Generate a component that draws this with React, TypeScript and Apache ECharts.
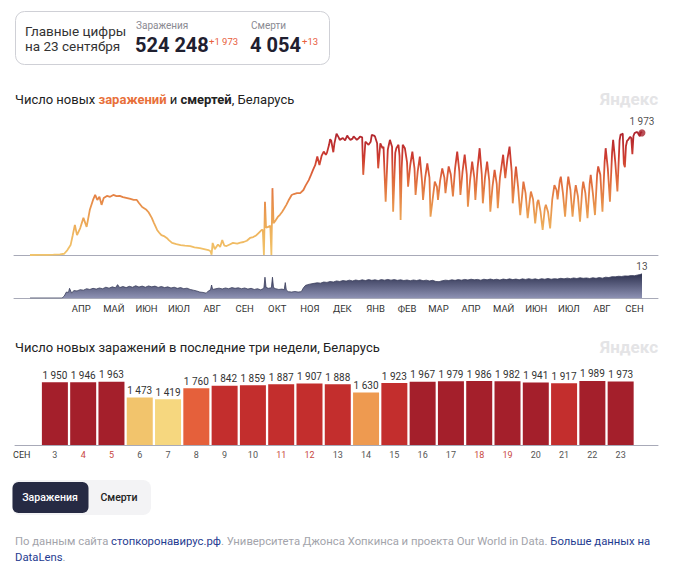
import { useEffect, useRef } from 'react';
import * as echarts from 'echarts';

const FONT = 'Roboto, "Noto Sans", sans-serif';

// Day numbers are days since 2020-03-01
const caseDays = [-2, 6, 14, 20, 26, 30, 33, 36, 38, 40, 42, 45, 48, 51, 54, 57, 59, 61, 63, 65, 67, 70, 73, 76, 79, 82, 85, 89, 92, 95, 98, 100, 103, 107, 109, 112, 114, 117, 119, 121, 124, 126, 128, 131, 135, 139, 143, 148, 152, 157, 161, 165, 167, 168, 169, 171, 174, 176, 178, 180, 182, 185, 188, 192, 195, 198, 201, 204, 207, 210, 212, 215, 216, 217, 218, 219, 221, 223, 224, 225, 226, 228, 230, 232, 234, 236, 238, 240, 243, 245, 248, 251, 254, 256, 259, 261, 263, 265, 267, 269, 271, 273, 275, 276, 278, 279, 280, 282, 283, 285, 287, 288, 290, 291, 293, 295, 296, 298, 300, 301, 303, 304, 306, 307, 309, 310, 312, 315, 317, 318, 320, 321, 323, 324, 326, 328, 329, 331, 333, 334, 335, 337, 338, 340, 341, 343, 344, 345, 346, 347, 349, 351, 352, 354, 356, 358, 359, 361, 363, 365, 366, 368, 370, 372, 373, 375, 377, 379, 380, 382, 384, 386, 387, 389, 390, 392, 394, 396, 398, 400, 401, 403, 405, 407, 408, 410, 412, 414, 415, 417, 419, 421, 422, 424, 426, 428, 429, 431, 433, 435, 436, 438, 441, 443, 444, 445, 447, 449, 450, 452, 453, 455, 457, 459, 460, 462, 464, 466, 467, 469, 471, 473, 474, 476, 478, 480, 481, 483, 485, 487, 489, 491, 492, 494, 495, 497, 499, 501, 502, 504, 506, 508, 509, 511, 513, 515, 516, 518, 520, 522, 523, 525, 527, 529, 530, 532, 534, 536, 537, 539, 541, 543, 544, 546, 548, 550];
const caseValues = [0, 1, 2, 5, 10, 20, 80, 160, 320, 485, 320, 435, 600, 455, 730, 890, 970, 890, 940, 810, 920, 955, 940, 970, 950, 955, 935, 920, 905, 890, 890, 840, 775, 730, 690, 600, 520, 405, 360, 320, 300, 275, 240, 195, 175, 160, 150, 145, 125, 110, 95, 80, 60, 5, 195, 95, 170, 130, 240, 150, 145, 170, 195, 185, 200, 210, 230, 275, 290, 320, 355, 405, 400, 0, 860, 440, 455, 470, 0, 1080, 515, 560, 615, 650, 695, 750, 810, 880, 970, 985, 1000, 1000, 1050, 1120, 1210, 1290, 1375, 1450, 1590, 1455, 1600, 1670, 1620, 1650, 1780, 1870, 1850, 1660, 1800, 1960, 1900, 1860, 1880, 1890, 1850, 1930, 1900, 1860, 1880, 1915, 1880, 1860, 1890, 1915, 1900, 1295, 1830, 1780, 1830, 1940, 1930, 1915, 1805, 1400, 1805, 1725, 1750, 860, 1700, 1780, 1860, 1750, 700, 1650, 1725, 1780, 1600, 565, 1400, 1780, 1725, 1500, 1105, 1450, 1670, 1400, 970, 1350, 1590, 1200, 890, 1250, 1480, 1250, 620, 900, 1185, 1100, 890, 1200, 1400, 1250, 1000, 1300, 1430, 1300, 945, 1400, 1670, 1350, 970, 1350, 1620, 1300, 780, 1200, 1510, 1250, 890, 1400, 1725, 1300, 835, 1250, 1510, 1200, 700, 1100, 1375, 1150, 755, 1250, 1620, 1240, 1400, 1550, 1750, 1350, 835, 1250, 1430, 1100, 645, 1000, 1185, 1000, 595, 900, 1025, 900, 510, 850, 890, 700, 405, 750, 810, 700, 430, 900, 1130, 1050, 900, 1200, 1265, 1000, 620, 1100, 1265, 1050, 620, 1000, 1130, 950, 540, 1050, 1185, 1000, 595, 1150, 1295, 1000, 645, 1300, 1430, 1295, 700, 1500, 1725, 1400, 860, 1650, 1860, 1500, 1025, 1850];

const deathDays = [-2, 28, 30, 32, 34, 35, 37, 39, 42, 45, 48, 51, 54, 57, 60, 63, 66, 69, 72, 75, 78, 80, 82, 85, 88, 91, 94, 97, 100, 103, 106, 109, 112, 115, 118, 121, 124, 127, 130, 133, 136, 139, 142, 145, 148, 151, 154, 157, 160, 163, 165, 167, 168, 169, 172, 175, 178, 181, 184, 187, 190, 193, 196, 199, 202, 205, 208, 211, 214, 216, 217, 218, 219, 221, 223, 224, 225, 226, 228, 231, 234, 236, 237, 238, 240, 243, 246, 249, 252, 254, 256, 258, 261, 264, 267, 270, 273, 276, 279, 282, 285, 288, 291, 294, 297, 300, 303, 306, 309, 312, 315, 318, 321, 324, 327, 330, 333, 336, 339, 342, 345, 348, 351, 354, 357, 360, 363, 366, 369, 372, 375, 378, 381, 384, 387, 390, 393, 396, 399, 402, 405, 408, 411, 414, 417, 420, 423, 426, 429, 432, 435, 438, 441, 444, 447, 450, 453, 456, 459, 462, 465, 468, 471, 474, 477, 480, 483, 486, 489, 492, 495, 498, 501, 504, 507, 510, 513, 516, 519, 522, 525, 528, 531, 534, 537, 540, 543, 546, 549, 552, 555, 558, 561, 564, 567, 569, 571];
const deathValues = [0, 0, 1, 3.2, 3, 5.2, 2.6, 4, 3.8, 4.5, 4.2, 5, 4.6, 5.2, 4.8, 5.4, 5, 5.8, 5.3, 6, 5.5, 7.2, 5.6, 6.2, 5.6, 6.3, 5.8, 6.6, 5.9, 6.4, 5.8, 6.5, 6, 6.4, 5.7, 6.2, 5.6, 6, 5.4, 5.8, 5.2, 5.6, 5, 5.3, 4.6, 4.2, 3.8, 3.2, 3, 2.6, 3.8, 4.4, 7, 4.6, 5, 5.3, 4.9, 5.4, 5, 5.6, 5.2, 5.5, 5, 5.4, 4.8, 5.2, 4.6, 5, 4.4, 5, 5.5, 11.2, 5.8, 5.2, 5.4, 5.6, 11.2, 5.6, 5, 4.6, 4.8, 4.4, 8.3, 4.2, 3.4, 3.2, 3.5, 3.2, 3.4, 5.5, 6.8, 7.2, 7.6, 7.9, 8.2, 8, 8.6, 8.4, 8.9, 8.6, 9.2, 8.9, 9.4, 9.1, 9.6, 9.2, 9.7, 9.3, 9.8, 9.4, 9.9, 9.5, 9.8, 9.4, 9.9, 9.6, 10, 9.6, 9.9, 9.5, 9.8, 9.4, 9.7, 9.3, 9.7, 9.4, 9.8, 9.3, 9.6, 9.2, 9.5, 8.9, 8.8, 9.3, 9.6, 9.4, 9.8, 9.5, 9.9, 9.6, 10, 9.7, 10.1, 9.8, 10, 9.6, 10.1, 9.8, 10.2, 9.8, 10.1, 9.7, 10.2, 9.9, 10.3, 9.9, 10.2, 9.8, 10.3, 10, 10.4, 10, 10.3, 9.9, 10.4, 10.1, 10.5, 10.1, 10.4, 10.2, 10.6, 10.3, 10.7, 10.4, 10.8, 10.5, 10.9, 10.6, 10.8, 10.5, 10.9, 10.6, 11, 10.7, 11.2, 11, 11.5, 11.4, 11.7, 11.6, 11.9, 11.8, 12.1, 12, 12.4, 12.6, 13];

// last three weeks (September 2021)
const barDays = [3, 4, 5, 6, 7, 8, 9, 10, 11, 12, 13, 14, 15, 16, 17, 18, 19, 20, 21, 22, 23];
const barValues = [1950, 1946, 1963, 1473, 1419, 1760, 1842, 1859, 1887, 1907, 1888, 1630, 1923, 1967, 1979, 1986, 1982, 1941, 1917, 1989, 1973];
const weekendDays = [4, 5, 11, 12, 18, 19];
const barDayOffset = 548; // 2021-09-03 is day 551 => day d of September is 548 + d

const monthNames = ['АПР', 'МАЙ', 'ИЮН', 'ИЮЛ', 'АВГ', 'СЕН', 'ОКТ', 'НОЯ', 'ДЕК', 'ЯНВ', 'ФЕВ', 'МАР', 'АПР', 'МАЙ', 'ИЮН', 'ИЮЛ', 'АВГ', 'СЕН'];

const totalCases = '524 248';
const newCases = '+1 973';
const totalDeaths = '4 054';
const newDeaths = '+13';
const lastCases = 1973;
const lastDeaths = 13;

const fmt = (v: number) => String(v).replace(/\B(?=(\d{3})+(?!\d))/g, ' ');

const barColor = (v: number) => {
  if (v >= 1940) return '#a41f2b';
  if (v >= 1800) return '#c32e2d';
  if (v >= 1700) return '#e5603b';
  if (v >= 1550) return '#ee9a50';
  if (v >= 1450) return '#f2c46c';
  return '#f6d77f';
};

const DAY = 86400000;
const base = Date.UTC(2020, 2, 1);
const monthMids: number[] = [];
for (let i = 0; i < monthNames.length; i++) {
  const s = Date.UTC(2020, 3 + i, 1);
  const e = Date.UTC(2020, 4 + i, 1);
  const start = (s - base) / DAY;
  const len = (e - s) / DAY;
  monthMids.push(start + len / 2);
}

export default function App() {
  const ref = useRef<HTMLDivElement>(null);
  useEffect(() => {
    const chart = echarts.init(ref.current!, null, { renderer: 'svg' });
    const caseData: number[][] = caseDays.map((d, i) => [d, caseValues[i]]);
    barDays.forEach((d, i) => caseData.push([barDayOffset + d, barValues[i]]));
    const deathData = deathDays.map((d, i) => [d, deathValues[i]]);
    const lastDay = barDayOffset + barDays[barDays.length - 1];

    const option: any = {
      animation: false,
      backgroundColor: '#fff',
      textStyle: { fontFamily: FONT },
      grid: [
        { left: 14, top: 125, width: 644, height: 130 },
        { left: 14, top: 272, width: 644, height: 26 },
        { left: 15, top: 380.6, width: 643, height: 64.4 },
      ],
      xAxis: [
        {
          gridIndex: 0, type: 'value', min: -17, max: 586,
          axisLine: { show: true, lineStyle: { color: '#a8aab8', width: 1 } },
          axisTick: { show: false }, axisLabel: { show: false }, splitLine: { show: false },
        },
        {
          gridIndex: 1, type: 'value', min: -17, max: 586,
          axisLine: { show: true, lineStyle: { color: '#a8aab8', width: 1 } },
          axisTick: { show: false }, splitLine: { show: false },
          axisLabel: {
            show: true, customValues: monthMids, margin: 5,
            color: '#333', fontSize: 9.5, fontFamily: FONT,
            formatter: (v: number) => {
              let best = 0;
              monthMids.forEach((m, i) => { if (Math.abs(m - v) < Math.abs(monthMids[best] - v)) best = i; });
              return monthNames[best];
            },
          },
        },
        {
          gridIndex: 2, type: 'value', min: 1.59, max: 24.32,
          axisLine: { show: true, lineStyle: { color: '#a8aab8', width: 1 } },
          axisTick: { show: false }, splitLine: { show: false },
          axisLabel: {
            show: true, customValues: [1.83, ...barDays], margin: 5, fontSize: 9, fontFamily: FONT,
            formatter: (v: number) => {
              if (v < 3) return '{m|СЕН}';
              return weekendDays.includes(v) ? `{w|${v}}` : `{d|${v}}`;
            },
            rich: {
              m: { color: '#333', fontSize: 9, fontFamily: FONT },
              w: { color: '#c8483e', fontSize: 9, fontFamily: FONT },
              d: { color: '#555', fontSize: 9, fontFamily: FONT },
            },
          },
        },
      ],
      yAxis: [
        { gridIndex: 0, type: 'value', min: 0, max: 2100, show: false },
        { gridIndex: 1, type: 'value', min: 0, max: 14, show: false },
        { gridIndex: 2, type: 'value', min: 0, max: 2000, show: false },
      ],
      visualMap: [{
        type: 'continuous', show: false, seriesIndex: 0, dimension: 1, min: 0, max: 2000,
        inRange: { color: ['#f2c46a', '#eeb25d', '#e8914b', '#e06c3d', '#cc3a30', '#ad232d'] },
      }],
      series: [
        {
          type: 'line', xAxisIndex: 0, yAxisIndex: 0, data: caseData, symbol: 'none',
          lineStyle: { width: 1.8 }, silent: true, z: 3,
        },
        {
          type: 'scatter', xAxisIndex: 0, yAxisIndex: 0, data: [[lastDay, lastCases]],
          symbolSize: 7, itemStyle: { color: '#a8232d' }, z: 4,
          label: { show: true, position: 'top', distance: 3, formatter: fmt(lastCases), color: '#222', fontSize: 10, fontFamily: FONT },
        },
        {
          type: 'line', xAxisIndex: 1, yAxisIndex: 1, data: deathData, symbol: 'none',
          lineStyle: { width: 0.8, color: '#3b3f5d' },
          areaStyle: {
            opacity: 1,
            color: new echarts.graphic.LinearGradient(0, 0, 0, 1, [
              { offset: 0, color: '#2e3250' },
              { offset: 1, color: '#8d91b3' },
            ]),
          },
        },
        {
          type: 'scatter', xAxisIndex: 1, yAxisIndex: 1, data: [[lastDay, lastDeaths]], symbolSize: 0,
          label: { show: true, position: 'top', distance: 2, formatter: String(lastDeaths), color: '#222', fontSize: 10, fontFamily: FONT },
        },
        {
          type: 'bar', xAxisIndex: 2, yAxisIndex: 2, barWidth: 26,
          data: barDays.map((d, i) => ({ value: [d, barValues[i]], itemStyle: { color: barColor(barValues[i]) } })),
          label: {
            show: true, position: 'top', distance: 2, color: '#333', fontSize: 10, fontFamily: FONT,
            formatter: (p: any) => fmt(p.value[1]),
          },
        },
      ],
      graphic: [
        { type: 'rect', shape: { x: 15.5, y: 11.5, width: 314, height: 53, r: 9 }, style: { fill: '#fff', stroke: '#cfd0d6', lineWidth: 1 } },
        { type: 'text', x: 25, y: 31, style: { text: 'Главные цифры', fill: '#333', fontSize: 13.5, fontFamily: FONT, verticalAlign: 'middle' } },
        { type: 'text', x: 25, y: 46, style: { text: 'на 23 сентября', fill: '#333', fontSize: 13.5, fontFamily: FONT, verticalAlign: 'middle' } },
        { type: 'text', x: 136, y: 25, style: { text: 'Заражения', fill: '#8a8a92', fontSize: 10, fontFamily: FONT, verticalAlign: 'middle' } },
        { type: 'text', x: 135, y: 45, style: { text: totalCases, fill: '#1f2030', fontSize: 20, fontWeight: 'bold', fontFamily: FONT, verticalAlign: 'middle' } },
        { type: 'text', x: 209, y: 41, style: { text: newCases, fill: '#e8603c', fontSize: 9.5, fontFamily: FONT, verticalAlign: 'middle' } },
        { type: 'text', x: 251, y: 25, style: { text: 'Смерти', fill: '#8a8a92', fontSize: 10, fontFamily: FONT, verticalAlign: 'middle' } },
        { type: 'text', x: 250, y: 45, style: { text: totalDeaths, fill: '#1f2030', fontSize: 20, fontWeight: 'bold', fontFamily: FONT, verticalAlign: 'middle' } },
        { type: 'text', x: 302, y: 41, style: { text: newDeaths, fill: '#e8603c', fontSize: 9.5, fontFamily: FONT, verticalAlign: 'middle' } },
        {
          type: 'text', x: 15, y: 99,
          style: {
            text: '{n|Число новых }{o|заражений}{n| и }{k|смертей}{n|, Беларусь}',
            verticalAlign: 'middle',
            rich: {
              n: { fill: '#222', fontSize: 13, fontFamily: FONT },
              o: { fill: '#e8703a', fontSize: 13, fontWeight: 'bold', fontFamily: FONT },
              k: { fill: '#222', fontSize: 13, fontWeight: 'bold', fontFamily: FONT },
            },
          },
        },
        { type: 'text', x: 658, y: 99, style: { text: 'Яндекс', fill: '#e4e4e6', fontSize: 17, fontWeight: 'bold', fontFamily: FONT, align: 'right', verticalAlign: 'middle' } },
        { type: 'text', x: 15, y: 347, style: { text: 'Число новых заражений в последние три недели, Беларусь', fill: '#222', fontSize: 13, fontFamily: FONT, verticalAlign: 'middle' } },
        { type: 'text', x: 658, y: 347, style: { text: 'Яндекс', fill: '#e4e4e6', fontSize: 17, fontWeight: 'bold', fontFamily: FONT, align: 'right', verticalAlign: 'middle' } },
        { type: 'rect', shape: { x: 12, y: 480, width: 139, height: 35, r: 8 }, style: { fill: '#f3f3f5' } },
        { type: 'rect', shape: { x: 12.5, y: 482, width: 76, height: 31, r: 6 }, style: { fill: '#262a43' } },
        { type: 'text', x: 50, y: 497.5, style: { text: 'Заражения', fill: '#fff', fontSize: 10.5, fontWeight: 500, fontFamily: FONT, align: 'center', verticalAlign: 'middle' } },
        { type: 'text', x: 119, y: 497.5, style: { text: 'Смерти', fill: '#222', fontSize: 10.5, fontWeight: 500, fontFamily: FONT, align: 'center', verticalAlign: 'middle' } },
        {
          type: 'text', x: 15, y: 533,
          style: {
            text: '{g|По данным сайта }{b|стопкоронавирус.рф}{g|. Университета Джонса Хопкинса и проекта Our World in Data. }{b|Больше данных на}\n{b|DataLens}{g|.}',
            rich: {
              g: { fill: '#a3a4ab', fontSize: 11.3, fontFamily: FONT, lineHeight: 16 },
              b: { fill: '#1f3c91', fontSize: 11.3, fontFamily: FONT, lineHeight: 16 },
            },
          },
        },
      ],
    };
    chart.setOption(option);
    return () => chart.dispose();
  }, []);
  return <div ref={ref} style={{ position: 'absolute', left: 0, top: 0, width: 673, height: 577, background: '#fff' }} />;
}
